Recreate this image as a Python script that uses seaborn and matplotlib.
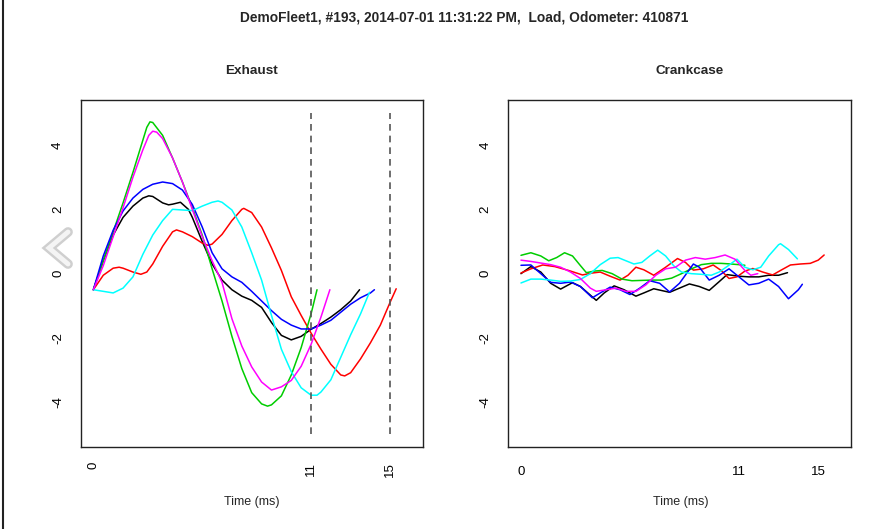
import matplotlib
matplotlib.use("Agg")
import matplotlib.pyplot as plt
import matplotlib.lines as mlines
import seaborn as sns
import pandas as pd

# ---------------- data ----------------
main_title = "DemoFleet1, #193, 2014-07-01 11:31:22 PM,  Load, Odometer: 410871"
panel_titles = ["Exhaust", "Crankcase"]
x_label = "Time (ms)"
x_ticks = [0, 11, 15]
y_ticks = [-4, -2, 0, 2, 4]
y_tick_labels = ["-4", "-2", "0", "2", "4"]
marker_times = [11, 15]
series_colors = ["black", "#FF0000", "#00CD00", "#0000FF", "#00FFFF", "#FF00FF"]
series_names = ["black", "red", "green", "blue", "cyan", "magenta"]

# Exhaust
ex_black_t = [0, 0.5, 1.0, 1.5, 2.0, 2.5, 2.8, 3.0, 3.5, 3.8, 4.0, 4.4, 4.8, 5.0, 5.5, 6.0, 6.5, 7.0, 7.5, 8.0, 8.5, 9.0, 9.5, 10.0, 10.5, 11.0, 11.5, 12.0, 12.5, 13.0, 13.45]
ex_black_v = [-0.5, 0.4, 1.2, 1.75, 2.1, 2.35, 2.42, 2.4, 2.2, 2.14, 2.16, 2.22, 2.0, 1.75, 1.0, 0.3, -0.2, -0.5, -0.7, -0.83, -1.05, -1.52, -1.92, -2.06, -1.95, -1.73, -1.55, -1.35, -1.12, -0.85, -0.5]
ex_red_t = [0, 0.5, 1.0, 1.3, 1.5, 2.0, 2.4, 2.7, 3.0, 3.5, 4.0, 4.2, 4.5, 5.0, 5.5, 5.8, 6.0, 6.5, 7.0, 7.5, 7.6, 8.0, 8.5, 9.0, 9.5, 10.0, 10.5, 11.0, 11.5, 12.0, 12.5, 12.7, 13.0, 13.5, 14.0, 14.5, 15.0, 15.3]
ex_red_v = [-0.5, -0.05, 0.17, 0.2, 0.17, 0.05, -0.02, 0.05, 0.3, 0.85, 1.3, 1.36, 1.3, 1.15, 0.95, 0.88, 0.92, 1.22, 1.65, 2.0, 2.03, 1.9, 1.45, 0.8, 0.1, -0.72, -1.3, -1.85, -2.35, -2.82, -3.15, -3.18, -3.08, -2.65, -2.15, -1.6, -0.88, -0.47]
ex_green_t = [0, 0.5, 1.0, 1.5, 2.0, 2.5, 2.7, 2.86, 3.0, 3.5, 4.0, 4.5, 5.0, 5.5, 6.0, 6.5, 7.0, 7.5, 8.0, 8.5, 8.8, 9.0, 9.5, 10.0, 10.5, 11.0, 11.3]
ex_green_v = [-0.5, 0.4, 1.3, 2.2, 3.15, 4.15, 4.55, 4.72, 4.7, 4.3, 3.6, 2.85, 2.05, 1.2, 0.15, -0.85, -1.95, -2.95, -3.7, -4.05, -4.12, -4.08, -3.8, -3.15, -2.3, -1.25, -0.5]
ex_blue_t = [0, 0.5, 1.0, 1.5, 2.0, 2.5, 3.0, 3.5, 4.0, 4.5, 5.0, 5.5, 6.0, 6.5, 7.0, 7.5, 8.0, 8.5, 9.0, 9.5, 10.0, 10.5, 11.0, 11.5, 12.0, 12.5, 13.0, 13.5, 14.0, 14.2]
ex_blue_v = [-0.5, 0.55, 1.35, 1.95, 2.35, 2.62, 2.78, 2.85, 2.8, 2.6, 2.15, 1.45, 0.65, 0.15, -0.1, -0.27, -0.55, -0.85, -1.15, -1.42, -1.6, -1.72, -1.72, -1.6, -1.45, -1.2, -0.95, -0.75, -0.6, -0.5]
ex_cyan_t = [0, 0.5, 1.0, 1.5, 2.0, 2.5, 3.0, 3.5, 4.0, 4.5, 5.0, 5.5, 6.0, 6.3, 6.5, 7.0, 7.5, 8.0, 8.5, 9.0, 9.5, 10.0, 10.5, 11.0, 11.3, 11.5, 12.0, 12.5, 13.0, 13.5, 13.95]
ex_cyan_v = [-0.5, -0.55, -0.6, -0.45, -0.1, 0.6, 1.2, 1.65, 2.0, 1.98, 1.96, 2.1, 2.22, 2.26, 2.22, 1.98, 1.45, 0.65, -0.2, -1.3, -2.35, -3.05, -3.55, -3.78, -3.78, -3.68, -3.3, -2.6, -1.9, -1.25, -0.58]
ex_magenta_t = [0, 0.5, 1.0, 1.5, 2.0, 2.5, 2.8, 3.0, 3.2, 3.5, 4.0, 4.5, 5.0, 5.5, 6.0, 6.5, 7.0, 7.5, 8.0, 8.5, 9.0, 9.5, 10.0, 10.5, 11.0, 11.5, 11.95]
ex_magenta_v = [-0.5, 0.25, 1.15, 2.05, 3.0, 3.85, 4.3, 4.43, 4.4, 4.2, 3.6, 2.85, 2.0, 1.15, 0.4, -0.27, -1.4, -2.25, -2.9, -3.37, -3.62, -3.52, -3.32, -2.88, -2.2, -1.35, -0.5]

# Crankcase
cr_black_t = [0, 0.5, 1.0, 1.5, 2.0, 2.6, 3.0, 3.8, 4.2, 4.7, 5.2, 5.8, 6.2, 6.7, 7.5, 8.0, 8.5, 9.0, 9.5, 10.0, 10.4, 11.0, 11.5, 12.0, 12.5, 13.0, 13.45]
cr_black_v = [0.0, 0.22, 0.05, -0.3, -0.48, -0.28, -0.4, -0.83, -0.6, -0.38, -0.5, -0.7, -0.6, -0.47, -0.58, -0.45, -0.32, -0.4, -0.52, -0.25, -0.03, -0.08, -0.1, -0.1, -0.05, -0.05, 0.03]
cr_red_t = [0, 0.5, 1.1, 1.7, 2.4, 3.1, 3.6, 4.0, 4.5, 5.0, 5.4, 5.8, 6.2, 6.7, 7.3, 7.9, 8.3, 8.7, 9.2, 9.7, 10.1, 10.5, 10.9, 11.3, 11.7, 12.2, 12.7, 13.1, 13.6, 14.1, 14.6, 15.0, 15.3]
cr_red_v = [0.02, 0.15, 0.27, 0.22, 0.1, -0.04, 0.02, 0.05, -0.08, -0.2, -0.05, 0.2, 0.12, -0.05, 0.2, 0.47, 0.35, 0.11, 0.15, 0.27, 0.1, -0.15, -0.1, 0.08, 0.16, 0.05, -0.04, 0.1, 0.27, 0.3, 0.32, 0.42, 0.58]
cr_green_t = [0, 0.5, 1.0, 1.4, 1.8, 2.2, 2.6, 3.0, 3.3, 3.7, 4.1, 4.6, 5.1, 5.6, 6.1, 6.6, 7.1, 7.6, 8.1, 8.6, 9.1, 9.6, 10.1, 10.6, 11.0, 11.3]
cr_green_v = [0.57, 0.65, 0.55, 0.4, 0.5, 0.65, 0.55, 0.25, 0.03, 0.08, 0.1, 0.0, -0.17, -0.22, -0.21, -0.2, -0.2, -0.14, 0.0, 0.15, 0.28, 0.32, 0.32, 0.3, 0.28, 0.26]
cr_blue_t = [0, 0.5, 1.0, 1.5, 2.0, 2.5, 3.0, 3.6, 4.0, 4.5, 5.0, 5.5, 6.0, 6.5, 7.0, 7.5, 8.0, 8.7, 9.0, 9.5, 10.0, 10.5, 11.0, 11.5, 12.0, 12.5, 13.0, 13.5, 14.0, 14.2]
cr_blue_v = [0.26, 0.27, 0.0, -0.27, -0.3, -0.26, -0.4, -0.75, -0.6, -0.42, -0.5, -0.65, -0.45, -0.22, -0.3, -0.57, -0.3, 0.3, 0.2, -0.2, -0.05, 0.15, -0.1, -0.35, -0.3, -0.17, -0.4, -0.78, -0.5, -0.33]
cr_cyan_t = [0, 0.5, 1.0, 1.5, 2.0, 2.5, 3.0, 3.5, 4.0, 4.5, 4.9, 5.3, 5.7, 6.1, 6.5, 6.9, 7.3, 7.7, 8.1, 8.6, 9.1, 9.6, 10.0, 10.4, 10.9, 11.3, 11.7, 12.1, 12.5, 13.0, 13.1, 13.5, 13.95]
cr_cyan_v = [-0.29, -0.17, -0.17, -0.2, -0.24, -0.23, -0.18, 0.0, 0.28, 0.48, 0.5, 0.4, 0.3, 0.35, 0.55, 0.73, 0.55, 0.25, 0.05, 0.0, -0.02, -0.05, 0.05, 0.22, 0.45, 0.2, 0.12, 0.2, 0.55, 0.9, 0.93, 0.75, 0.46]
cr_magenta_t = [0, 0.5, 1.0, 1.5, 2.0, 2.5, 3.0, 3.5, 3.8, 4.3, 4.8, 5.3, 5.8, 6.3, 6.8, 7.3, 7.8, 8.3, 8.8, 9.3, 9.8, 10.3, 10.8, 11.3, 11.6, 11.95]
cr_magenta_v = [0.42, 0.38, 0.33, 0.28, 0.2, 0.05, -0.15, -0.45, -0.55, -0.5, -0.45, -0.55, -0.55, -0.35, -0.05, 0.15, 0.2, 0.42, 0.5, 0.45, 0.5, 0.58, 0.45, 0.1, -0.05, 0.0]

exhaust = [(ex_black_t, ex_black_v), (ex_red_t, ex_red_v), (ex_green_t, ex_green_v),
           (ex_blue_t, ex_blue_v), (ex_cyan_t, ex_cyan_v), (ex_magenta_t, ex_magenta_v)]
crankcase = [(cr_black_t, cr_black_v), (cr_red_t, cr_red_v), (cr_green_t, cr_green_v),
             (cr_blue_t, cr_blue_v), (cr_cyan_t, cr_cyan_v), (cr_magenta_t, cr_magenta_v)]

# ---------------- figure ----------------
sns.set_style("white")
plt.rcParams["font.family"] = ["Liberation Sans", "DejaVu Sans"]

W, H = 893, 529
fig = plt.figure(figsize=(W / 100, H / 100), dpi=100)

def fx(px):
    return px / W

def fy(py):
    return 1 - py / H

ax_l = fig.add_axes([fx(80.7), fy(447.3), fx(422.7) - fx(80.7), fy(100) - fy(447.3)])
ax_r = fig.add_axes([fx(508.3), fy(447.3), fx(850.7) - fx(508.3), fy(100) - fy(447.3)])


def draw_panel(ax, series, rotate_x):
    for (t, v), col, name in zip(series, series_colors, series_names):
        df = pd.DataFrame({"t": t, "v": v})
        sns.lineplot(data=df, x="t", y="v", ax=ax, color=col, linewidth=1.1,
                     sort=False, estimator=None, legend=False)
    ax.set_xlim(-0.64, 16.64)
    ax.set_ylim(-5.4, 5.4)
    ax.set_xticks(x_ticks)
    ax.set_xticklabels([str(x) for x in x_ticks], rotation=90 if rotate_x else 0)
    ax.set_yticks(y_ticks)
    ax.set_yticklabels(y_tick_labels, rotation=90, va="center")
    ax.tick_params(axis="y", length=5, width=0.8, pad=7, labelsize=9.5, colors="black")
    ax.tick_params(axis="x", length=5.5, width=0.8, pad=5 if rotate_x else 8, labelsize=9.5, colors="black")
    ax.set_xlabel("")
    ax.set_ylabel("")
    for s in ax.spines.values():
        s.set_visible(True)
        s.set_color("#222222")
        s.set_linewidth(1.0)
    ax.set_facecolor("white")


draw_panel(ax_l, exhaust, True)
draw_panel(ax_r, crankcase, False)

for m in marker_times:
    ax_l.vlines(m, -5, 5, colors="#555555", linestyles=(0, (4, 3)), linewidth=1.2)

# titles
fig.text(fx(464), fy(18), main_title, ha="center", va="center", fontsize=9.9, fontweight="bold")
fig.text(fx(251.7), fy(71), panel_titles[0], ha="center", va="center", fontsize=9.7, fontweight="bold")
fig.text(fx(690), fy(71), panel_titles[1], ha="center", va="center", fontsize=9.7, fontweight="bold")
fig.text(fx(252), fy(502), x_label, ha="center", va="center", fontsize=9)
fig.text(fx(681), fy(502), x_label, ha="center", va="center", fontsize=9)

# left border of the page and the grey chevron overlay
fig.add_artist(mlines.Line2D([fx(3), fx(3)], [0, 1], color="#222222", linewidth=1.5))
fig.add_artist(mlines.Line2D([fx(68), fx(49), fx(68)], [fy(232), fy(248), fy(264)],
                             color="#cfcfcf", linewidth=7, solid_capstyle="round",
                             solid_joinstyle="miter"))
fig.add_artist(mlines.Line2D([fx(68), fx(49), fx(68)], [fy(232), fy(248), fy(264)],
                             color="#f4f4f4", linewidth=3.5, solid_capstyle="round",
                             solid_joinstyle="miter"))

fig.savefig("out.png", dpi=100, facecolor="white")
